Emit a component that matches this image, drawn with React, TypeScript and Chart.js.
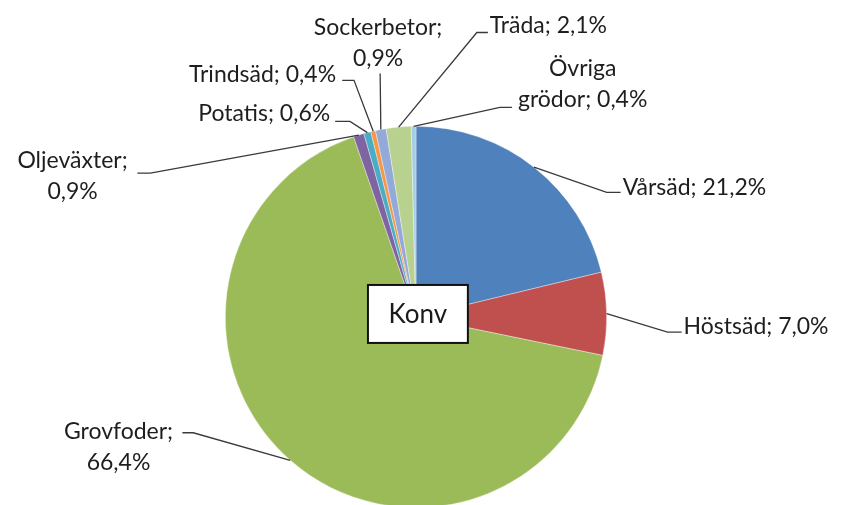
import React, { useEffect, useRef } from "react";
import { Chart, registerables } from "chart.js";

Chart.register(...registerables);

// ---- data ----
const categories = [
  "Vårsäd",
  "Höstsäd",
  "Grovfoder",
  "Oljeväxter",
  "Potatis",
  "Trindsäd",
  "Sockerbetor",
  "Träda",
  "Övriga grödor",
];
const shares = [21.2, 7.0, 66.4, 0.9, 0.6, 0.4, 0.9, 2.1, 0.4];
const centerLabel = "Konv";

// ---- styles ----
const colors = [
  "#4F81BD",
  "#C0504D",
  "#9BBB59",
  "#8064A2",
  "#4BACC6",
  "#F79646",
  "#93A9D8",
  "#B9D18F",
  "#A5CEE2",
];

// label layout, all offsets relative to pie centre, in units of the radius
type LabelLayout = {
  wrap: number; // words on the first line (0 = single line)
  align: CanvasTextAlign;
  tx: number;
  ty: number;
  pts: [number, number][]; // leader line points after the arc anchor
};
const layouts: LabelLayout[] = [
  { wrap: 0, align: "left", tx: 1.084, ty: -0.681, pts: [[1.0, -0.654], [1.073, -0.654]] },
  { wrap: 0, align: "left", tx: 1.403, ty: 0.052, pts: [[1.319, 0.079], [1.393, 0.079]] },
  { wrap: 1, align: "center", tx: -1.56, ty: 0.602, pts: [[-1.168, 0.607], [-1.225, 0.607]] },
  { wrap: 1, align: "center", tx: -1.801, ty: -0.822, pts: [[-1.393, -0.754], [-1.461, -0.754]] },
  { wrap: 0, align: "right", tx: -0.45, ty: -1.068, pts: [[-0.346, -1.026], [-0.424, -1.026]] },
  { wrap: 0, align: "right", tx: -0.419, ty: -1.272, pts: [[-0.325, -1.241], [-0.387, -1.241]] },
  { wrap: 1, align: "center", tx: -0.199, ty: -1.518, pts: [[-0.188, -1.277]] },
  { wrap: 0, align: "left", tx: 0.387, ty: -1.529, pts: [[0.319, -1.492], [0.377, -1.492]] },
  { wrap: 1, align: "center", tx: 0.874, ty: -1.304, pts: [[0.44, -1.099], [0.503, -1.099]] },
];

const FONT = "23px Lato, 'Noto Sans', sans-serif";
const LINE_GAP = 31;

const fmt = (v: number) => v.toFixed(1).replace(".", ",") + "%";

const labelPlugin = {
  id: "excelLabels",
  afterDatasetsDraw(chart: any) {
    const ctx: CanvasRenderingContext2D = chart.ctx;
    const meta = chart.getDatasetMeta(0);
    ctx.save();
    ctx.font = FONT;
    ctx.textBaseline = "middle";
    meta.data.forEach((arc: any, i: number) => {
      const p = arc.getProps(["x", "y", "startAngle", "endAngle", "outerRadius"], true);
      const r = p.outerRadius;
      const mid = (p.startAngle + p.endAngle) / 2;
      const ax = p.x + Math.cos(mid) * r;
      const ay = p.y + Math.sin(mid) * r;
      const L = layouts[i];
      // leader line
      ctx.strokeStyle = "#3a3a3a";
      ctx.lineWidth = 1.3;
      ctx.beginPath();
      ctx.moveTo(ax, ay);
      L.pts.forEach(([dx, dy]) => ctx.lineTo(p.x + dx * r, p.y + dy * r));
      ctx.stroke();
      // text
      const text = `${categories[i]}; ${fmt(shares[i])}`;
      const words = text.split(" ");
      const lines = L.wrap > 0 ? [words.slice(0, L.wrap).join(" "), words.slice(L.wrap).join(" ")] : [text];
      ctx.fillStyle = "#1e1e1e";
      ctx.textAlign = L.align;
      lines.forEach((ln, k) => {
        ctx.fillText(ln, p.x + L.tx * r, p.y + L.ty * r + k * LINE_GAP);
      });
    });
    // centre label box
    const a0 = meta.data[0].getProps(["x", "y", "outerRadius"], true);
    const r = a0.outerRadius;
    const bw = 0.524 * r;
    const bh = 0.304 * r;
    const bx = a0.x + 0.01 * r - bw / 2;
    const by = a0.y - 0.016 * r - bh / 2;
    ctx.fillStyle = "#ffffff";
    ctx.fillRect(bx, by, bw, bh);
    ctx.strokeStyle = "#111111";
    ctx.lineWidth = 2;
    ctx.strokeRect(bx, by, bw, bh);
    ctx.fillStyle = "#1a1a1a";
    ctx.font = "26px Lato, 'Noto Sans', sans-serif";
    ctx.textAlign = "center";
    ctx.textBaseline = "middle";
    ctx.fillText(centerLabel, bx + bw / 2, by + bh / 2 + 1);
    ctx.restore();
  },
};

export default function App() {
  const ref = useRef<HTMLCanvasElement | null>(null);
  useEffect(() => {
    if (!ref.current) return;
    const chart = new Chart(ref.current, {
      type: "pie",
      data: {
        labels: categories,
        datasets: [
          {
            data: shares,
            backgroundColor: colors,
            borderColor: "rgba(255,255,255,0.6)",
            borderWidth: 0.6,
          },
        ],
      },
      options: {
        responsive: false,
        animation: false,
        layout: { padding: { left: 225, right: 235, top: 126, bottom: 12 } },
        plugins: { legend: { display: false }, tooltip: { enabled: false } },
      },
      plugins: [labelPlugin],
    });
    return () => chart.destroy();
  }, []);
  return (
    <div style={{ position: "fixed", left: 0, top: 0, width: 842, height: 520, background: "#fff" }}>
      <canvas ref={ref} width={842} height={520} style={{ width: 842, height: 520 }} />
    </div>
  );
}
